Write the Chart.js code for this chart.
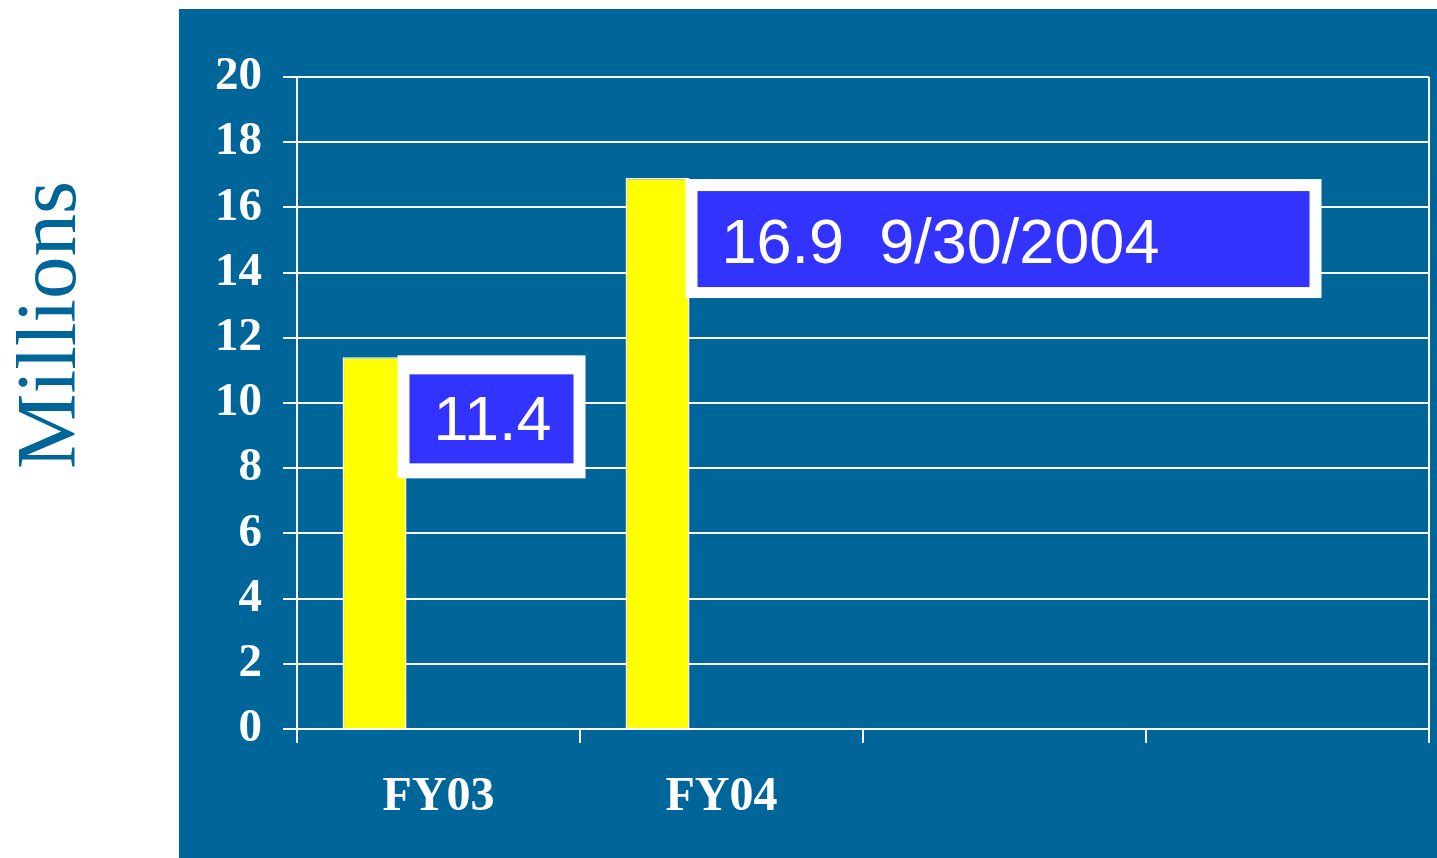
<!DOCTYPE html>
<html lang="en">

<head>
  <meta charset="UTF-8">
  <title>Millions FY03 FY04</title>
  <script src="https://cdn.jsdelivr.net/npm/chart.js"></script>
  <style>
    body {
      margin: 0;
      background: #fff;
    }

    canvas {
      display: block;
    }
  </style>
</head>

<body>
  <canvas id="chart" width="1437" height="858"></canvas>
  <script>
    // data
    const categories = ['FY03', 'FY04', '', ''];
    const values = [11.4, 16.9, null, null];
    const valueLabels = ['11.4', '16.9  9/30/2004'];
    const yTicks = [0, 2, 4, 6, 8, 10, 12, 14, 16, 18, 20];

    const panelBlue = '#006699';
    const boxBlue = '#3333ff';

    // callout boxes beside each bar (outer width/height, shift from bar edge)
    const boxStyle = [
      { dx: -9, dy: -2, w: 188, h: 123, padT: 19, padB: 15, base: 21 },
      { dx: -4, dy: 1, w: 636, h: 119, padT: 12, padB: 11, base: 24 }
    ];

    const backdrop = {
      id: 'backdrop',
      beforeDraw(chart) {
        const ctx = chart.ctx;
        ctx.save();
        ctx.fillStyle = panelBlue;
        ctx.fillRect(179, 9, chart.width - 179, chart.height - 9);
        // rotated axis title on the white margin
        ctx.translate(75, 325);
        ctx.rotate(-Math.PI / 2);
        ctx.fillStyle = panelBlue;
        ctx.font = '85px "Liberation Serif"';
        ctx.textAlign = 'center';
        ctx.textBaseline = 'alphabetic';
        ctx.fillText('Millions', 0, 0);
        ctx.restore();
      }
    };

    const callouts = {
      id: 'callouts',
      afterDatasetsDraw(chart) {
        const ctx = chart.ctx;
        const bars = chart.getDatasetMeta(0).data;
        ctx.save();
        valueLabels.forEach((txt, i) => {
          const bar = bars[i];
          const s = boxStyle[i];
          const x0 = bar.x + bar.width / 2 + s.dx;
          const y0 = bar.y + s.dy;
          ctx.fillStyle = '#fff';
          ctx.fillRect(x0, y0, s.w, s.h);
          const ix = x0 + 12, iy = y0 + s.padT;
          const iw = s.w - 24, ih = s.h - s.padT - s.padB;
          ctx.fillStyle = boxBlue;
          ctx.fillRect(ix, iy, iw, ih);
          ctx.fillStyle = '#fff';
          ctx.font = '63px "Liberation Sans"';
          ctx.textAlign = 'left';
          ctx.textBaseline = 'alphabetic';
          ctx.fillText(txt, ix + 24, iy + ih / 2 + s.base);
        });
        ctx.restore();
      }
    };

    new Chart(document.getElementById('chart'), {
      type: 'bar',
      data: {
        labels: categories,
        datasets: [
          {
            data: values,
            backgroundColor: '#ffff00',
            borderColor: '#ffffff',
            borderWidth: 1.5,
            barPercentage: 1,
            categoryPercentage: 0.678
          },
          { data: [null, null, null, null], barPercentage: 1, categoryPercentage: 0.678 },
          { data: [null, null, null, null], barPercentage: 1, categoryPercentage: 0.678 }
        ]
      },
      options: {
        responsive: false,
        animation: false,
        devicePixelRatio: 1,
        layout: { padding: { left: 179, top: 77, right: 8, bottom: 0 } },
        plugins: {
          legend: { display: false },
          tooltip: { enabled: false }
        },
        scales: {
          x: {
            offset: true,
            afterFit: s => { s.height = 129; },
            grid: {
              offset: true,
              color: c => c.tick ? 'rgba(0,0,0,0)' : '#ffffff',
              tickColor: '#ffffff',
              lineWidth: 2,
              tickLength: 14
            },
            border: { color: '#ffffff', width: 2 },
            ticks: {
              color: '#ffffff',
              font: { family: '"Liberation Serif"', size: 48, weight: 'bold' },
              padding: 26,
              maxRotation: 0
            }
          },
          y: {
            min: 0,
            max: 20,
            afterFit: s => { s.width = 118; },
            afterBuildTicks: s => { s.ticks = yTicks.map(v => ({ value: v })); },
            grid: {
              color: '#ffffff',
              lineWidth: 2,
              tickLength: 14
            },
            border: { color: '#ffffff', width: 2 },
            ticks: {
              color: '#ffffff',
              font: { family: '"Liberation Serif"', size: 47, weight: 'bold' },
              padding: 21
            }
          }
        }
      },
      plugins: [backdrop, callouts]
    });
  </script>
</body>

</html>
